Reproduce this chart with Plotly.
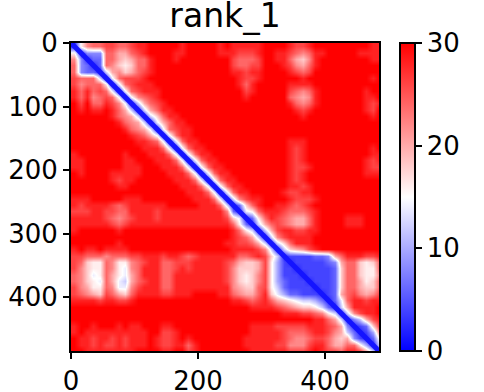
import plotly.graph_objects as go

# PAE on a 10-residue grid; each character = level, value = level * 2 (f = 30)
pae_rows = [
"1 8 b c c d d c c d e e f f f f f e f f f f f e f e e e e e f f f f e d d e f f f f f f f f f e e",
"8 1 4 4 4 c c a a c d e f f f f e e f f f f f e e e d d d e f f e e d c b c e e f f f f f e e e e",
"b 4 1 3 3 c c a 9 a c c e f f f e f f f f f f f f d c c c d f f e e c a 9 b e f f f f f f f f e e",
"c 4 3 1 3 c b 9 8 9 c c e f f f f f f f f f f f f d c c d d f f f e d b a c e f f f f f f f f f f",
"c 4 3 3 1 6 a b 9 a c d e f f f f f f f f f f f f e e d e e f f f f e d c d f f f f f f f f f f f",
"d c c c 6 1 7 c d d d e f f f f f f f f f f f f f f e d d e f f f f f f e f f f f f f f f f f e f",
"d b c c c 8 1 7 c d e e e f f f f f f f f f f f f f e c e f f f f f e e e e f f f f f f f f f f f",
"e c e c d c 7 1 7 c d e e e f f f f f f f f f f f f f d e f f f f f d c b c e f f f f f f f e f f",
"e c e b c d c 7 1 7 b c d e f f f f f f f f f f f f f e f f f f f f c b a b e f f f f f f f e e f",
"f d f c c e d b 7 1 6 a c d e f f f f f f f f f f f f f f f f f f f e c b c e f f f f f f f e d e",
"f e f e e f e c a 6 1 6 a c e e f f f f f f f f f f f f f f f f f f f e d e f f f f f f f f e d f",
"f f f f f f e c b a 6 1 6 9 c e e f f f f f f f f f f f f f f f f f f f e f f f f f f f f f f e f",
"f f f f f f f e c b a 6 1 7 a c e e f f f f f f f f f f f f f f f f f f f f f f f f f f f f f f f",
"f f f f f f f f e c b a 7 1 7 c d e e f f f f f f f f f f f f f f f f f f f f f f f f f f f f f f",
"f f f f f f f f f e d c a 7 1 7 c e e f f f f f f f f f f f f f f f f f f f f f f f f f f f f f f",
"f f f f f f f f f f e e d c 7 1 7 c e e f f f f f f f f f f f f f f e e e f f f f f f f f f f f f",
"f f f f f f f f f f f e e e c 7 1 7 c e e f f f f f f f f f f f f f e d e f f f f f f f f f f e f",
"e f f f f f f f e f f f e e e c 7 1 7 c e e f f f f f f f f f f f f e d e f f f f f f f f f f e e",
"e e f f f f f f e e f f f e e e c 7 1 7 c e e f f f f f f f f f f f e d e f f f f f f f f f e d e",
"e e f f f f f f e e e f f f e e e c 7 1 7 c e e f f f f f f f f f f e d d e f f f f f f f f e d d",
"f e f f f f e e e e e f f f f e e e c 7 1 7 c e e f f f f f f f f f e d e f f f f f f f f f e e e",
"f f f f f f e d e e f f f f f f e e e c 7 1 7 c e e f f f f f f f f e d e f f f f f f f f f f f f",
"f f f f f f f e e f f f f f f f f e e e c 7 1 7 c e e f f f f f f f e e d e f f f f f f f f f f f",
"f f f f f f f f f f f f f f f f f f e e e c 7 1 7 c e e f f f f f e d d e e f f f f f f f f f f f",
"e e e f f f f f e e e f f f f f f f f e e e c 7 1 6 b d e e f f f f e d d d e f f f f f f f f f f f",
"e d e e e e d c d e e e e e e f f f f f e e e c 6 1 3 9 c e f f e e d c d e f f f f f f f f f f f",
"d d d e e d d c c e e e e d e e e e e e e e e e b 3 1 7 8 c e e e d c c c d e f f f f f f f f f f",
"e e e e e d c b c d e e e d e e e e e e e e e e d 9 7 1 3 8 c e d c b a a c e f f f f e e e f f f",
"e e e e e e d c d e e e e e e e e e e e e e e e e c 8 3 1 6 a c d c b a a c e f f f f e e e f f f",
"e f f f f f f e f f f f f f f f f f f f f f f f f e c 8 6 1 6 a d e e d d e e f f f f f f f f f f",
"f f f f f f f f f f f f f f f f f f f f f f f f f e d c a 6 1 6 b d e e e e f f f f f f f f f f f",
"f f f f f f f e f f f f f f f f f f f f f f f f e e d d c a 6 1 6 9 c e e e f f f f f f f f f f f",
"e f e e f e e e e f f f f f f f f f f f f f f f f e e e e d b 6 1 6 9 a b d e f f f f f f f f f f",
"d d c c c b c c c d d e e e d e e d c d e e e e e e c c d e d 9 6 1 2 2 2 2 3 3 4 a c e e e d d e",
"d c 9 8 8 c b 8 8 b c d e e c c d d d e e e e e d c a 9 9 a d 8 5 2 1 2 2 2 2 2 3 4 a c c 9 8 9 c",
"d b 9 8 8 c b 8 7 b c e e e c c d e d e e e e e d b 9 9 9 a d 8 5 2 2 1 2 2 2 2 2 3 9 c c 9 8 8 c",
"c b 9 7 8 c a 8 7 a c e e e c c e e e e e e e e d b 9 8 9 b d 8 5 2 2 2 1 2 2 2 2 3 9 c c 9 8 8 b",
"c b 9 8 7 c a 7 6 a c d e e c c e e e e e e e e d b 9 8 9 b d 8 5 3 2 2 2 1 2 2 2 3 9 c c a 8 9 c",
"d b a 8 8 c b 7 7 b d e e e c c e e e e e e e e e b a 9 9 c d 8 6 3 2 2 2 2 1 2 2 3 9 c c a 9 9 c",
"d c b a 9 d c a 9 c e e e e d d e e e f f f f e e c b a a c e 9 7 5 3 3 2 2 2 1 2 3 a c d b a b d",
"e e e e d e e d d e f f f f f f f f f f f f f f f e e d c d e c a 9 8 7 6 6 5 3 1 3 7 c e e d e e",
"f f f f f f f f f f f f f f f f f f f f f f f f f f f f e e e e d c b a 9 9 8 6 3 1 6 a e e e e f",
"f f f f f f f f f f f f f f f f f f f f f f f f f f f f f f f f f e e e d d c b 8 6 1 6 b d e e f",
"f f f f f f f f f f f f f f f f f f f f f f f f f f f f f f f f f f f f f f e e c a 6 1 4 6 a d e",
"e f f e f f f e f e e f f f e e f f f f f f f f f f f f e e e e d d d d d e e e d c a 4 1 2 3 9 d",
"e f e e e e e e e e e e f f d d e f f f f f f f f f f f e e e e e d c c c d e e d b a 6 3 1 2 5 b",
"f e e d e e d e d e e e f e d d e f e f f f f f f f f e e e e e e d c b b c d d c a 9 a 4 2 1 3 8",
"f e e d e d d e d e e e f e d d e e c e f f f f f f f e e e e e d d b b b d e e c a a c c 8 5 1 6",
"f f e e e e e e e e f f f f e e f f d e f f f f f f f f e e e e e e d d d e f e d d c e e d a 6 1",
]
residue_centres = [5 + 10 * i for i in range(49)]
diagonal_residues = [0, 485]
x_ticks = [0, 200, 400]
y_ticks = [0, 100, 200, 300, 400]
cbar_ticks = [0, 10, 20, 30]
title_text = "rank_1"

z = [[int(c, 16) * 2 for c in row.split()[:49]] for row in pae_rows]

fig = go.Figure(go.Heatmap(
    x=residue_centres, y=residue_centres, z=z, zmin=0, zmax=30, zsmooth="best",
    colorscale=[[0, "#0000ff"], [0.5, "#ffffff"], [1, "#ff0000"]],
    hoverinfo="skip",
    colorbar=dict(
        x=1.068, xanchor="left", xref="paper", y=0.5, yanchor="middle", len=1, lenmode="fraction",
        ypad=0, xpad=0, thickness=15, thicknessmode="pixels",
        outlinecolor="black", outlinewidth=2, ticks="outside", ticklen=6, tickwidth=2,
        tickcolor="black", tickvals=cbar_ticks, tickfont=dict(family="DejaVu Sans", size=26, color="black"),
    ),
))
fig.add_trace(go.Scatter(x=diagonal_residues, y=diagonal_residues, mode="lines",
                         line=dict(color="#1414ff", width=5), hoverinfo="skip", showlegend=False))
axis = dict(showline=True, mirror=True, linecolor="black", linewidth=2, ticks="outside", ticklen=6,
            tickwidth=2, tickcolor="black", showgrid=False, zeroline=False,
            tickfont=dict(family="DejaVu Sans", size=26, color="black"))
fig.update_xaxes(range=[0, 485], tickvals=x_ticks, **axis)
fig.update_yaxes(range=[485, 0], tickvals=y_ticks, **axis)
fig.update_layout(
    width=484, height=392, margin=dict(l=71, r=105, t=43, b=41, autoexpand=False),
    paper_bgcolor="white", plot_bgcolor="white",
    title=dict(text=title_text, x=225/484, xanchor="center", y=1-15/392, yanchor="middle",
               font=dict(family="DejaVu Sans", size=33, color="black")),
)
fig.write_html("out.html", config=dict(displayModeBar=False),
               post_script="document.body.style.margin='0';document.body.style.overflow='hidden';")
